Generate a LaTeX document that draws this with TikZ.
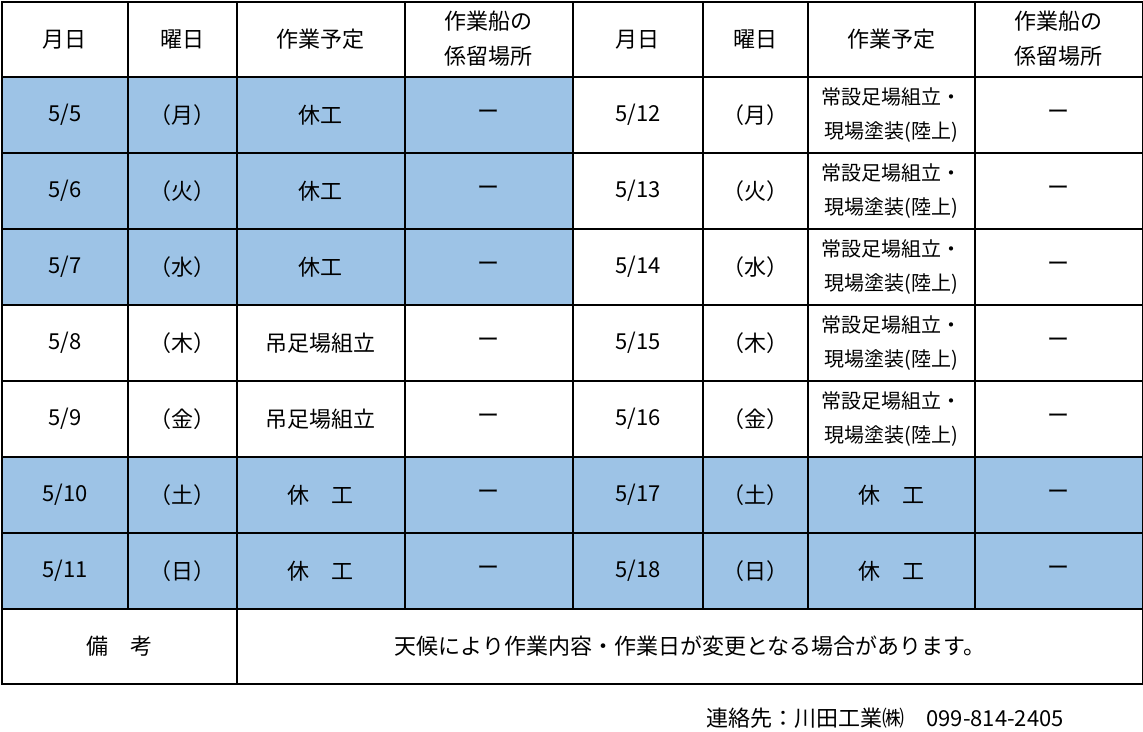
\documentclass[tikz,border=0pt]{standalone}
\usepackage{fontspec}
\setmainfont{Noto Sans CJK JP}
\newfontfamily\dayfont[RawFeature=+halt]{Noto Sans CJK JP}
\usetikzlibrary{matrix,positioning}
\definecolor{offday}{RGB}{157,195,230}
\tikzset{cell/.style={draw,line width=2pt,inner sep=0pt,outer sep=0pt,anchor=center,minimum height=76pt,font=\fontsize{22}{35}\selectfont},
  off/.style={fill=offday}}
\newcommand\twoline[2]{\begin{tabular}{@{}c@{}}#1\\#2\end{tabular}}
\newcommand\moorhead{\twoline{作業船の}{係留場所}}
\newcommand\landwork{\fontsize{20}{34}\selectfont\twoline{常設足場組立・}{現場塗装(陸上)}}

\begin{document}
\begin{tikzpicture}[x=1pt,y=1pt]
  \useasboundingbox (0,0) rectangle (1143,-731);
  \matrix (plan) [matrix of nodes,nodes={cell},column sep=-2pt,row sep=-2pt,inner sep=0pt,outer sep=0pt,anchor=north west,
    column 1/.style={nodes={minimum width=126pt}},column 2/.style={nodes={minimum width=109pt}},
    column 3/.style={nodes={minimum width=168pt}},column 4/.style={nodes={minimum width=168pt}},
    column 5/.style={nodes={minimum width=130pt}},column 6/.style={nodes={minimum width=105pt}},
    column 7/.style={nodes={minimum width=167pt}},column 8/.style={nodes={minimum width=168pt}},
    row 1/.style={nodes={minimum height=75pt}}] at (1,-1) {
    月日 & 曜日 & 作業予定 & \moorhead & 月日 & 曜日 & 作業予定 & \moorhead \\
    |[off]| 5/5 & |[off]| \dayfont（月） & |[off]| 休工 & |[off]| ー & 5/12 & \dayfont（月） & \landwork & ー \\
    |[off]| 5/6 & |[off]| \dayfont（火） & |[off]| 休工 & |[off]| ー & 5/13 & \dayfont（火） & \landwork & ー \\
    |[off]| 5/7 & |[off]| \dayfont（水） & |[off]| 休工 & |[off]| ー & 5/14 & \dayfont（水） & \landwork & ー \\
    5/8 & \dayfont（木） & 吊足場組立 & ー & 5/15 & \dayfont（木） & \landwork & ー \\
    5/9 & \dayfont（金） & 吊足場組立 & ー & 5/16 & \dayfont（金） & \landwork & ー \\
    |[off]| 5/10 & |[off]| \dayfont（土） & |[off]| 休　工 & |[off]| ー & |[off]| 5/17 & |[off]| \dayfont（土） & |[off]| 休　工 & |[off]| ー \\
    |[off]| 5/11 & |[off]| \dayfont（日） & |[off]| 休　工 & |[off]| ー & |[off]| 5/18 & |[off]| \dayfont（日） & |[off]| 休　工 & |[off]| ー \\
  };
  % remarks row below the table
  \node[cell,minimum width=235pt,minimum height=75pt,anchor=north west] (note) at (plan-8-1.south west) {備　考};
  \node[cell,minimum width=906pt,minimum height=75pt,right=0pt of note] (notetext) {天候により作業内容・作業日が変更となる場合があります。};
  \node[below left=24pt and 79pt of notetext.south east,inner sep=0pt,font=\fontsize{22}{26}\selectfont] (contact) {連絡先：川田工業㈱　099-814-2405};
\end{tikzpicture}
\end{document}
